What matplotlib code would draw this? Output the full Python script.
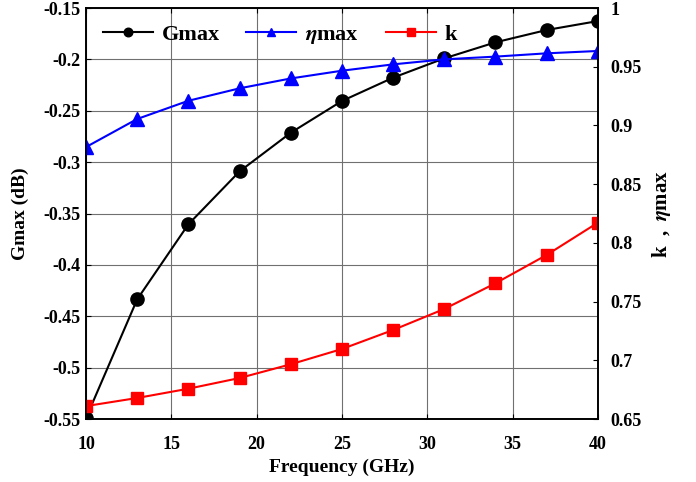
import matplotlib
matplotlib.use('Agg')
import matplotlib.pyplot as plt

# Data
freq = [10, 13, 16, 19, 22, 25, 28, 31, 34, 37, 40]
gmax = [-0.549, -0.4335, -0.3605, -0.309, -0.2714, -0.2405, -0.2178, -0.199, -0.1834, -0.1714, -0.1627]
eta_max = [0.8816, 0.9055, 0.921, 0.9316, 0.940, 0.9466, 0.952, 0.9563, 0.9586, 0.9614, 0.9634]
k = [0.661, 0.6679, 0.6758, 0.6849, 0.6966, 0.7096, 0.7258, 0.7437, 0.7656, 0.7897, 0.8172]

plt.rcParams['font.family'] = ['Liberation Serif', 'DejaVu Serif']
plt.rcParams['font.weight'] = 'bold'
plt.rcParams['mathtext.fontset'] = 'stix'

fig = plt.figure(figsize=(6.96, 4.82), dpi=100)
ax = fig.add_axes([0.1236, 0.1307, 0.7354, 0.8527])
ax2 = ax.twinx()

l1, = ax.plot(freq, gmax, '-o', color='black', lw=1.5, ms=9.5, label='Gmax')
l2, = ax2.plot(freq, eta_max, '-^', color='blue', lw=1.5, ms=9.5, label=r'$\boldsymbol{\eta}$max')
l3, = ax2.plot(freq, k, '-s', color='red', lw=1.5, ms=8, label='k')

ax.set_xlim(10, 40)
ax.set_ylim(-0.55, -0.15)
ax2.set_ylim(0.65, 1.0)
ax.set_xticks([10, 15, 20, 25, 30, 35, 40])
ax.set_yticks([-0.55, -0.5, -0.45, -0.4, -0.35, -0.3, -0.25, -0.2, -0.15])
ax.set_yticklabels(['-0.55', '-0.5', '-0.45', '-0.4', '-0.35', '-0.3', '-0.25', '-0.2', '-0.15'])
ax2.set_yticks([0.65, 0.7, 0.75, 0.8, 0.85, 0.9, 0.95, 1.0])
ax2.set_yticklabels(['0.65', '0.7', '0.75', '0.8', '0.85', '0.9', '0.95', '1'])

ax.grid(True, color='#707070', lw=0.8)
ax.tick_params(axis='x', direction='in', labelsize=13, top=True, pad=12)
ax.tick_params(axis='y', direction='in', labelsize=13, pad=4)
ax2.tick_params(direction='in', labelsize=13, pad=9)
for a in (ax, ax2):
    for s in a.spines.values():
        s.set_linewidth(1.2)

ax.set_xlabel('Frequency (GHz)', fontsize=14, fontweight='bold', labelpad=4)
ax.set_ylabel('Gmax (dB)', fontsize=14, fontweight='bold', labelpad=10)
ax2.set_ylabel(r'k  ,  $\boldsymbol{\eta}$max', fontsize=15, fontweight='bold', labelpad=6)

ax.legend(handles=[l1, l2, l3], loc='upper left', ncol=3, frameon=False,
          fontsize=16, handlelength=2.25, handletextpad=0.4, columnspacing=1.2,
          markerscale=0.65, borderaxespad=0.2, borderpad=0.55)

fig.savefig('out.png', dpi=100)
